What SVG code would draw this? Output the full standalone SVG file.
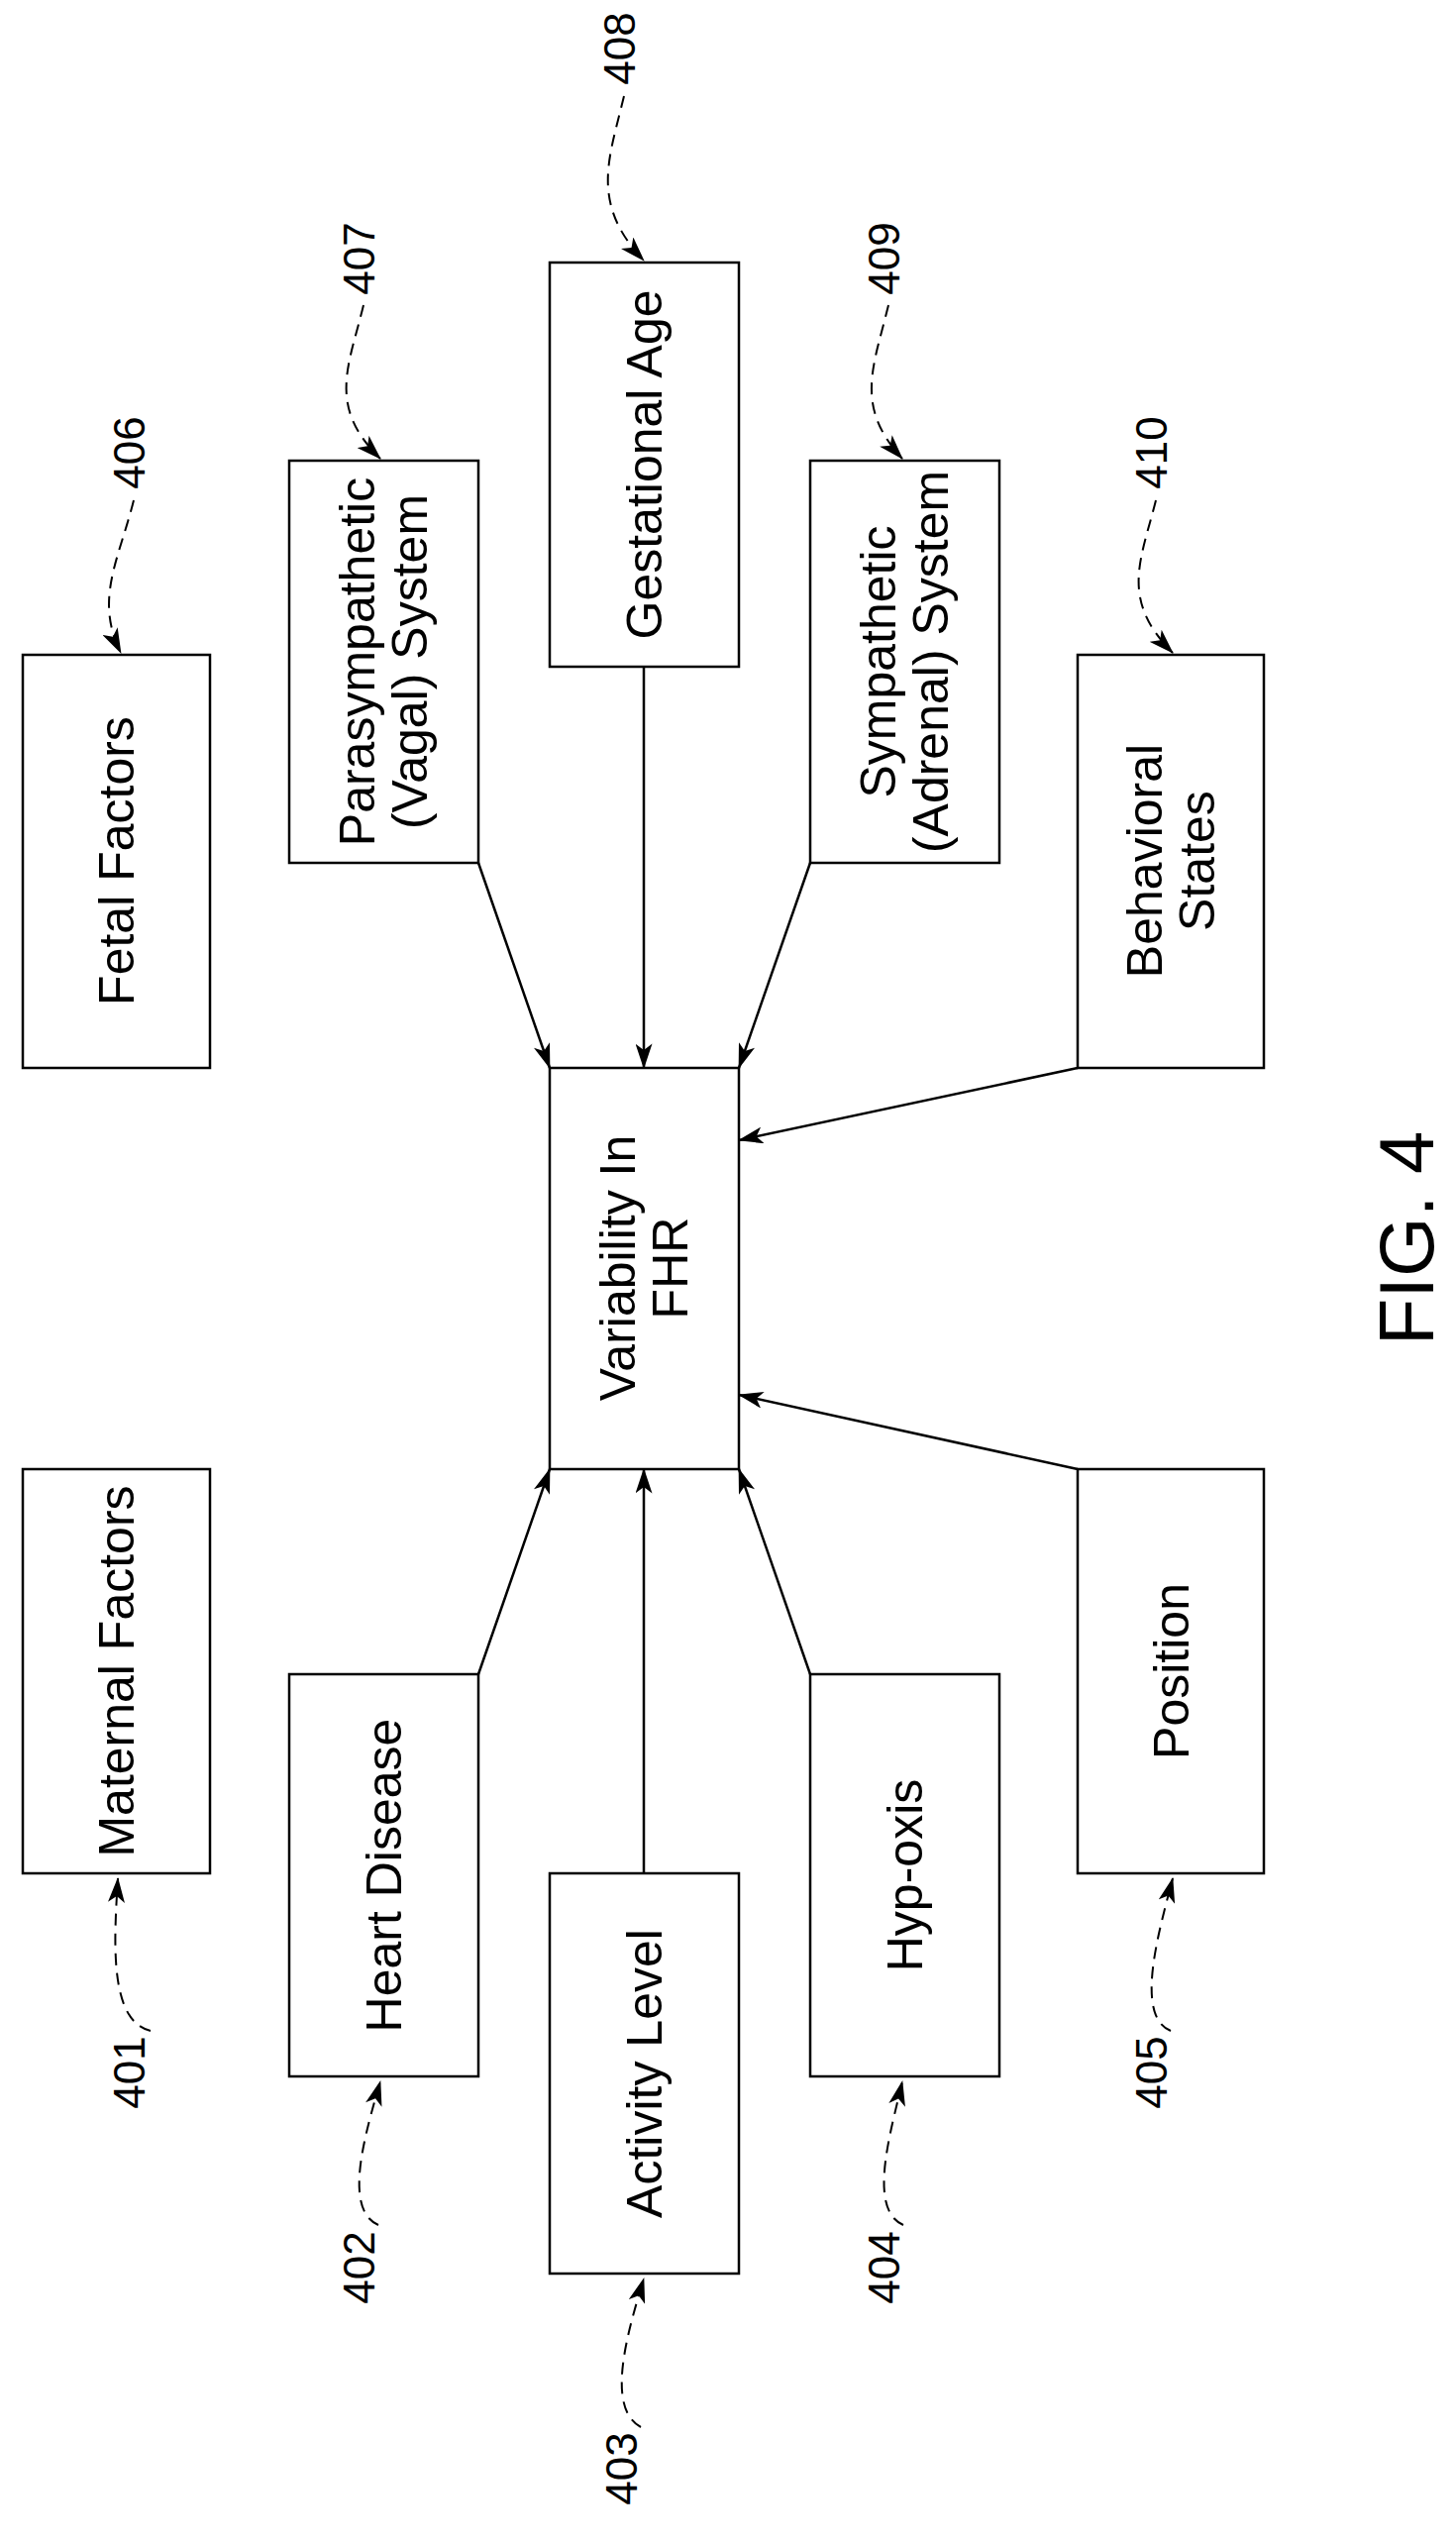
<svg xmlns="http://www.w3.org/2000/svg" width="1470" height="2568" viewBox="0 0 1470 2568">
<style>
.box{fill:#fff;stroke:#000;stroke-width:2.5}
.t{font-family:"Liberation Sans",Arial,sans-serif;font-size:50px;fill:#000;text-anchor:middle}
.n{font-family:"Liberation Sans",Arial,sans-serif;font-size:44px;fill:#000;text-anchor:middle}
.c{stroke:#000;stroke-width:2.5;fill:none;marker-end:url(#a)}
.l{stroke:#000;stroke-width:2;fill:none;stroke-dasharray:12 8;marker-end:url(#a)}
</style>
<defs>
<marker id="a" viewBox="0 0 24 16" refX="23" refY="8" markerWidth="26" markerHeight="17" markerUnits="userSpaceOnUse" orient="auto">
<path d="M0,0 L24,8 L0,16 L6,8 Z" fill="#000"/>
</marker>
</defs>
<rect width="1470" height="2568" fill="#fff"/>
<g id="connectors">
<path class="c" d="M483,871 L555,1078"/>
<path class="c" d="M650,673 L650,1078"/>
<path class="c" d="M818,871 L746,1078"/>
<path class="c" d="M1088,1078 L746,1151"/>
<path class="c" d="M483,1690 L555,1483"/>
<path class="c" d="M650,1891 L650,1483"/>
<path class="c" d="M818,1690 L746,1483"/>
<path class="c" d="M1088,1483 L746,1408"/>
<path class="l" d="M135,505 C120,565 95,605 122,659"/>
<path class="l" d="M367,308 C352,370 330,410 384,463"/>
<path class="l" d="M630,97 C615,160 595,205 650,263"/>
<path class="l" d="M897,308 C882,370 862,410 911,463"/>
<path class="l" d="M1167,505 C1152,565 1130,605 1184,659"/>
<path class="l" d="M152,2050 C110,2040 115,1960 119,1896"/>
<path class="l" d="M382,2246 C345,2230 370,2150 384,2101"/>
<path class="l" d="M647,2450 C610,2430 635,2350 650,2300"/>
<path class="l" d="M912,2246 C875,2230 900,2150 911,2101"/>
<path class="l" d="M1182,2050 C1145,2035 1170,1950 1184,1896"/>
</g>
<g id="n406"><rect class="box" x="23" y="661" width="189" height="417"/><text class="t" transform="translate(117,869) rotate(-90)" dy="0.35em">Fetal Factors</text><text class="n" transform="translate(131,457) rotate(-90)" dy="0.35em">406</text></g>
<g id="n407"><rect class="box" x="292" y="465" width="191" height="406"/><text class="t" transform="translate(387,668) rotate(-90)"><tspan x="0" dy="-0.18em">Parasympathetic</tspan><tspan x="0" dy="1.05em">(Vagal) System</tspan></text><text class="n" transform="translate(363,261) rotate(-90)" dy="0.35em">407</text></g>
<g id="n408"><rect class="box" x="555" y="265" width="191" height="408"/><text class="t" transform="translate(650,469) rotate(-90)" dy="0.35em">Gestational Age</text><text class="n" transform="translate(626,49) rotate(-90)" dy="0.35em">408</text></g>
<g id="n409"><rect class="box" x="818" y="465" width="191" height="406"/><text class="t" transform="translate(913,668) rotate(-90)"><tspan x="0" dy="-0.18em">Sympathetic</tspan><tspan x="0" dy="1.05em">(Adrenal) System</tspan></text><text class="n" transform="translate(893,261) rotate(-90)" dy="0.35em">409</text></g>
<g id="n410"><rect class="box" x="1088" y="661" width="188" height="417"/><text class="t" transform="translate(1182,869) rotate(-90)"><tspan x="0" dy="-0.18em">Behavioral</tspan><tspan x="0" dy="1.05em">States</tspan></text><text class="n" transform="translate(1163,457) rotate(-90)" dy="0.35em">410</text></g>
<g id="var"><rect class="box" x="555" y="1078" width="191" height="405"/><text class="t" transform="translate(650,1280) rotate(-90)"><tspan x="0" dy="-0.18em">Variability In</tspan><tspan x="0" dy="1.05em">FHR</tspan></text></g>
<g id="n401"><rect class="box" x="23" y="1483" width="189" height="408"/><text class="t" transform="translate(117,1687) rotate(-90)" dy="0.35em">Maternal Factors</text><text class="n" transform="translate(131,2092) rotate(-90)" dy="0.35em">401</text></g>
<g id="n402"><rect class="box" x="292" y="1690" width="191" height="406"/><text class="t" transform="translate(387,1893) rotate(-90)" dy="0.35em">Heart Disease</text><text class="n" transform="translate(363,2289) rotate(-90)" dy="0.35em">402</text></g>
<g id="n403"><rect class="box" x="555" y="1891" width="191" height="404"/><text class="t" transform="translate(650,2093) rotate(-90)" dy="0.35em">Activity Level</text><text class="n" transform="translate(628,2492) rotate(-90)" dy="0.35em">403</text></g>
<g id="n404"><rect class="box" x="818" y="1690" width="191" height="406"/><text class="t" transform="translate(913,1893) rotate(-90)" dy="0.35em">Hyp-oxis</text><text class="n" transform="translate(893,2289) rotate(-90)" dy="0.35em">404</text></g>
<g id="n405"><rect class="box" x="1088" y="1483" width="188" height="408"/><text class="t" transform="translate(1182,1687) rotate(-90)" dy="0.35em">Position</text><text class="n" transform="translate(1163,2092) rotate(-90)" dy="0.35em">405</text></g>
<g id="fig"><text transform="translate(1420,1250) rotate(-90)" dy="0.35em" style="font-family:'Liberation Sans',Arial,sans-serif;font-size:78px;text-anchor:middle">FIG. 4</text></g>
</svg>
